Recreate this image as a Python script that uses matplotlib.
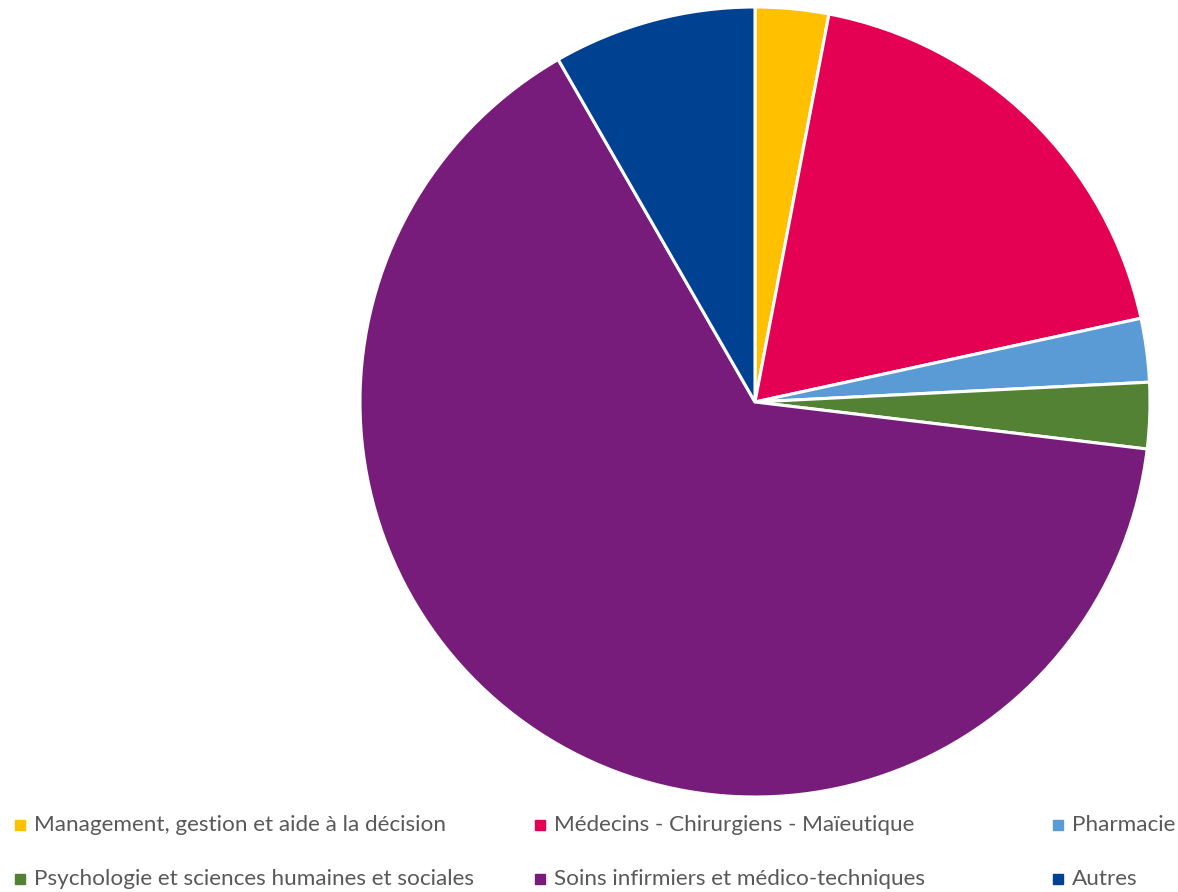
import matplotlib.pyplot as plt
from matplotlib.patches import Rectangle

plt.rcParams['font.family'] = ['Lato', 'DejaVu Sans']

labels = ['Management, gestion et aide à la décision',
          'Médecins - Chirurgiens - Maïeutique',
          'Pharmacie',
          'Psychologie et sciences humaines et sociales',
          'Soins infirmiers et médico-techniques',
          'Autres']
values = [3.0, 18.6, 2.6, 2.7, 64.8, 8.3]
colors = ['#FFC000', '#E40052', '#5B9BD5', '#548235', '#781C7C', '#004191']

W, H = 1178, 892
fig = plt.figure(figsize=(W / 100, H / 100), dpi=100)

# pie centre ~ (755, 402) px, radius ~395 px
ax = fig.add_axes([360 / W, (H - 797) / H, 790 / W, 790 / H])
ax.pie(values, colors=colors, startangle=90, counterclock=False, radius=1,
       wedgeprops=dict(edgecolor='white', linewidth=2.2))
ax.set_xlim(-1, 1)
ax.set_ylim(-1, 1)
ax.set_aspect('equal')
ax.axis('off')

# legend: 3 columns x 2 rows
col_x = [20, 540, 1058]
row_y = [825, 879]
for i, (lab, c) in enumerate(zip(labels, colors)):
    x = col_x[i % 3]
    y = row_y[i // 3]
    fig.add_artist(Rectangle(((x - 5) / W, (H - y - 5) / H), 10 / W, 10 / H,
                             transform=fig.transFigure, color=c))
    fig.text((x + 14) / W, (H - y) / H, lab, fontsize=16.2, color='#595959',
             va='center', ha='left')

plt.savefig('out.png', dpi=100)
